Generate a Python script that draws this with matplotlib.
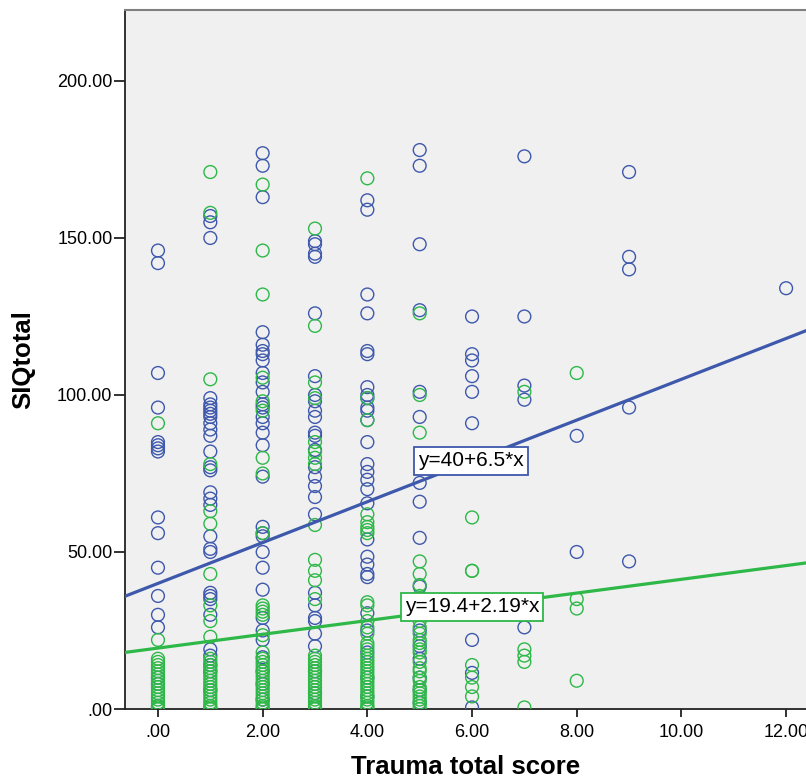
import matplotlib
matplotlib.use("Agg")
import matplotlib.pyplot as plt
import numpy as np

plt.rcParams['font.family'] = ['Liberation Sans', 'DejaVu Sans']

# blue group: SIQtotal values per trauma score
blue_pts = {
    0: [146, 142, 107, 96, 85, 84, 83, 82, 61, 56, 45, 36, 30, 26, 10, 8, 1],
    1: [157, 155, 150, 99, 97, 96, 95, 94, 93, 91, 89, 87, 82, 77, 76, 69, 67, 65,
        55, 51, 50, 37, 36, 35, 30, 19, 17, 14, 12, 6],
    2: [177, 173, 163, 120, 116, 114, 113, 111, 107, 104, 101, 97, 96, 93, 91, 88,
        84, 74, 58, 56, 55, 50, 45, 38, 29, 25, 22, 16.5, 12, 8, 3],
    3: [149, 148, 145, 144, 126, 106, 100, 98, 95, 93, 88, 87, 82.5, 77, 74, 71,
        67.5, 62, 37, 33, 29, 28, 24, 20, 12, 5],
    4: [162, 159, 132, 126, 114, 113, 102.5, 100, 99, 96, 95, 92, 85, 78, 75.5, 73,
        70, 65.5, 54, 48.5, 46, 43, 42, 30.5, 25, 18, 10, 4],
    5: [178, 173, 148, 127, 101, 93, 72, 66, 54.5, 39, 30.5, 25, 20, 16, 10, 6, 2],
    6: [125, 113, 111, 106, 101, 91, 22, 11.5, 0.5],
    7: [176, 125, 103, 98.5, 26],
    8: [87, 50],
    9: [171, 144, 140, 96, 47],
    12: [134],
}

# green group
green_pts = {
    0: [91, 22, 16, 15, 14, 13, 12, 11, 10, 9, 8, 7, 6, 5, 4, 3, 2, 1, 0.5, 0],
    1: [171, 158, 105, 78, 63, 59, 43, 33, 28, 23, 16, 15, 14, 13, 12, 11, 10, 9,
        8, 7, 6, 5, 4, 3, 2, 1, 0.5, 0],
    2: [167, 146, 132, 105.5, 98, 95, 80, 75, 56, 33, 32, 31, 30, 23.5, 18, 16, 15,
        14, 13, 12, 11, 10, 9, 8, 7, 6, 5, 4, 3, 2, 1, 0.5, 0],
    3: [153, 122, 104, 99, 85, 82, 80, 78, 58.6, 47.5, 44, 41, 35, 17, 16, 15, 14,
        13, 12, 11, 10, 9, 8, 7, 6, 5, 4, 3, 2, 1, 0.5, 0],
    4: [169, 99, 92, 62, 59.5, 58, 57, 56, 34, 33, 28, 26, 24, 21, 20, 19, 17, 16,
        15, 14, 13, 12, 11, 10, 9, 8, 7, 6, 5, 4, 3, 2, 1, 0.5, 0],
    5: [126, 100, 88, 47, 43, 39.5, 36, 34, 32, 30, 28, 26, 24, 22, 21, 19, 18,
        15, 13, 12, 10, 9, 7, 6, 5, 4, 3, 2, 1, 0],
    6: [61, 44, 44, 14, 10, 7, 4],
    7: [101, 19, 17, 15, 0.5],
    8: [107, 35, 32, 9],
}

# fit lines (intercept, slope)
blue_fit = (40, 6.5)
green_fit = (19.4, 2.19)
blue_label = "y=40+6.5*x"
green_label = "y=19.4+2.19*x"

xticks = [0, 2, 4, 6, 8, 10, 12]
xticklabels = [".00", "2.00", "4.00", "6.00", "8.00", "10.00", "12.00"]
yticks = [0, 50, 100, 150, 200]
yticklabels = [".00", "50.00", "100.00", "150.00", "200.00"]

BLUE = "#3E58AC"
GREEN = "#2EB848"

fig = plt.figure(figsize=(8.06, 7.81), dpi=100)
ax = fig.add_axes([125/806, 1 - 709/781, 1 - 125/806, (709 - 10)/781])
ax.set_facecolor("#F0F0F0")

xlim = (-0.63, 12.38)
ax.set_xlim(*xlim)
ax.set_ylim(0, 222.6)


def flatten(d):
    xs, ys = [], []
    for k, vals in d.items():
        xs += [k] * len(vals)
        ys += vals
    return np.array(xs, float), np.array(ys, float)


bx, by = flatten(blue_pts)
gx, gy = flatten(green_pts)
ax.scatter(bx, by, s=85, facecolors="none", edgecolors=BLUE, linewidths=1.0, zorder=3)
ax.scatter(gx, gy, s=85, facecolors="none", edgecolors=GREEN, linewidths=1.0, zorder=3)

lx = np.array(xlim)
ax.plot(lx, blue_fit[0] + blue_fit[1] * lx, color=BLUE, lw=2.3, zorder=4)
ax.plot(lx, green_fit[0] + green_fit[1] * lx, color=GREEN, lw=2.3, zorder=4)

ax.text(5.98, 79.0, blue_label, fontsize=15, ha="center", va="center", zorder=5,
        bbox=dict(boxstyle="square,pad=0.2", fc="white", ec=BLUE, lw=1.3))
ax.text(6.0, 32.5, green_label, fontsize=15, ha="center", va="center", zorder=5,
        bbox=dict(boxstyle="square,pad=0.2", fc="white", ec=GREEN, lw=1.3))

ax.set_xticks(xticks)
ax.set_xticklabels(xticklabels)
ax.set_yticks(yticks)
ax.set_yticklabels(yticklabels)
ax.tick_params(axis="y", length=8, width=1.3, pad=1, labelsize=13, color="#222222")
ax.tick_params(axis="x", length=6, width=1.3, pad=5, labelsize=13, color="#222222")

ax.spines["right"].set_visible(False)
ax.spines["top"].set_color("#808080")
ax.spines["top"].set_linewidth(1.5)
ax.spines["left"].set_color("#222222")
ax.spines["left"].set_linewidth(1.3)
ax.spines["bottom"].set_color("#222222")
ax.spines["bottom"].set_linewidth(1.3)

ax.set_xlabel("Trauma total score", fontsize=18.5, fontweight="bold", labelpad=10)
ax.set_ylabel("SIQtotal", fontsize=18.5, fontweight="bold", labelpad=16)

fig.savefig("out.png", dpi=100, facecolor="white")
